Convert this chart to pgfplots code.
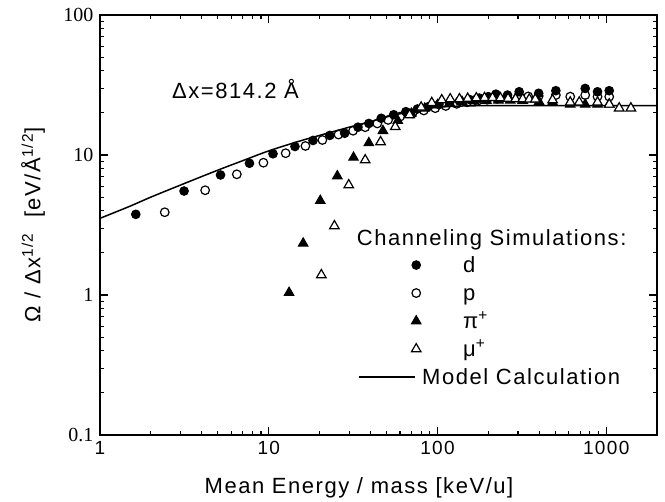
\documentclass[border=0pt]{standalone}
\usepackage{fontspec}
\setmainfont{Liberation Sans}[LetterSpace=7]
\newfontfamily\serifticks{Liberation Serif}
\usepackage{pgfplots}
\pgfplotsset{compat=1.18}
% every legend image gets the same (invisible) box, mark at its origin
\pgfplotsset{
  markimage/.style={legend image code/.code={%
    \path[draw=none, fill=none] (-60pt,-10.5pt) rectangle (18pt,10.5pt);
    \draw[##1] plot coordinates {(0pt,0pt)};}},
  modelimage/.style={legend image code/.code={%
    \path[draw=none, fill=none] (-60pt,-10.5pt) rectangle (18pt,10.5pt);
    \draw[##1] (-57pt,0pt) -- (-1pt,0pt);}}}

% data (energy/mass in keV/u, y in eV/A^1/2)
\pgfplotstableread{
x y
1.63 3.77
3.15 5.53
5.18 7.2
7.69 8.73
10.6 10.2
14.3 11.5
18.3 12.7
23 13.8
28.2 14.3
33.8 15.8
39.2 16.8
46.4 18.3
55 19.4
65 20.4
76 21.3
88 22.1
102 22.9
118 23.7
135 24.3
155 24.9
177 25.5
200 26.1
222 27.2
260 26.8
305 28.3
398 27.6
503 28.8
751 29.9
888 28.3
1042 28.8
}\deut
\pgfplotstableread{
x y
2.42 3.9
4.2 5.6
6.47 7.28
9.3 8.81
12.6 10.3
16.5 11.6
20.8 12.8
25.9 14.0
31.6 14.9
37.3 15.8
44 16.8
51 17.8
60 18.8
71 19.8
83 20.8
97 21.6
112 22.4
130 23.2
150 23.8
172 24.3
197 24.8
226 25.2
260 25.6
300 26.0
345 26.2
398 26.4
503 26.8
612 26.1
751 26.8
888 26.1
1042 26.1
}\prot
\pgfplotstableread{
x y
13.2 1.04
16 2.34
20.2 4.72
25.5 7.08
31.8 9.6
39.2 12.2
47.5 14.9
58.2 17.6
70 19.8
84 21.5
100 22.8
118 23.5
140 24.0
165 24.3
195 24.5
230 24.6
270 24.6
320 24.5
400 24.0
481 23.8
612 23.0
751 23.0
888 23.0
1042 23.0
}\pion
\pgfplotstableread{
x y
20.5 1.39
24.5 3.11
29.8 6.1
37.3 9.2
46 12.4
56.2 15.9
68.3 19.3
80 21.9
92.5 23.6
106 24.7
119 25.1
135 25.1
151 25.3
170 25.5
190 25.6
212 25.6
236 25.5
262 25.3
290 25.1
320 25.1
350 25.0
380 25.0
481 24.7
612 23.8
692 23.8
888 23.8
1042 23.0
1194 21.6
1400 21.6
}\muon
\pgfplotstableread{
x y
1 3.53
1.5 4.3
2 5.0
3 6.1
5 7.8
7 9.1
10 10.7
15 12.5
20 13.8
30 15.8
40 17.3
50 18.7
60 19.7
70 20.5
80 21.2
100 21.9
130 22.3
200 22.5
2000 22.5
}\model

\begin{document}
\begin{tikzpicture}
\begin{axis}[
  scale only axis,
  width=557pt, height=420pt,
  xmode=log, ymode=log,
  xmin=1, xmax=2000, ymin=0.1, ymax=100,
  xtick={1,10,100,1000}, xticklabels={1,10,100,1000},
  ytick={0.1,1,10,100}, yticklabels={0.1,1,10,100},
  minor xtick={2,3,4,5,6,7,8,9,20,30,40,50,60,70,80,90,200,300,400,500,600,700,800,900},
  minor ytick={0.2,0.3,0.4,0.5,0.6,0.7,0.8,0.9,2,3,4,5,6,7,8,9,20,30,40,50,60,70,80,90},
  tick align=inside,
  major tick length=8pt, minor tick length=4.5pt,
  axis line style={line width=1.2pt},
  major tick style={line width=1.2pt, black},
  minor tick style={line width=1.1pt, black},
  /pgf/number format/assume math mode=true,
  xticklabel style={font=\fontsize{19}{19}\selectfont, yshift=-3pt},
  yticklabel style={font=\serifticks\fontsize{20}{20}\selectfont, xshift=-3pt},
  xlabel={Mean Energy / mass [keV/u]},
  ylabel={Ω / Δx\textsuperscript{1/2}\ \ [eV/Å\textsuperscript{1/2}]},
  every axis x label/.style={at={(axis description cs:0.465,-0.126)}, anchor=center,
    font=\fontsize{22}{22}\selectfont},
  every axis y label/.style={at={(axis description cs:-0.12,0.5)}, rotate=90, anchor=center,
    font=\fontsize{22}{22}\selectfont},
  legend style={at={(axis cs:33.0,1.945)}, anchor=north west, draw=none, fill=none,
    inner sep=0pt, outer sep=0pt, row sep=7pt, column sep=29pt,
    font=\fontsize{22}{22}\selectfont,
    nodes={inner sep=0pt, text height=16pt, text depth=2pt}},
  legend cell align=left,
]
\addplot[only marks, mark=*, mark size=4.3pt, mark options={fill=black, line width=1pt}, markimage] table {\deut};
\addlegendentry{d}
\addplot[only marks, mark=o, mark size=4.3pt, mark options={fill=white, line width=1.2pt}, markimage] table {\prot};
\addlegendentry{p}
\addplot[only marks, mark=triangle*, mark size=5.5pt, mark options={fill=black, line width=1pt}, markimage] table {\pion};
\addlegendentry{π\textsuperscript{+}}
\addplot[only marks, mark=triangle*, mark size=5.5pt, mark options={fill=white, line width=1.2pt}, markimage] table {\muon};
\addlegendentry{μ\textsuperscript{+}}
\addplot[black, line width=1.5pt, smooth, modelimage] table {\model};
\addlegendentry{\hspace*{-41pt}Model Calculation}
\node[anchor=west, font=\fontsize{22}{22}\selectfont, inner sep=0pt] at (axis cs:2.67,29.6) {Δx=814.2 Å};
\node[anchor=west, font=\fontsize{22}{22}\selectfont, inner sep=0pt] at (axis cs:33.2,2.47) {Channeling Simulations:};
\end{axis}
\useasboundingbox ([xshift=-100pt,yshift=-64pt]current axis.south west) rectangle ([xshift=8pt,yshift=15pt]current axis.north east);
\end{tikzpicture}
\end{document}
